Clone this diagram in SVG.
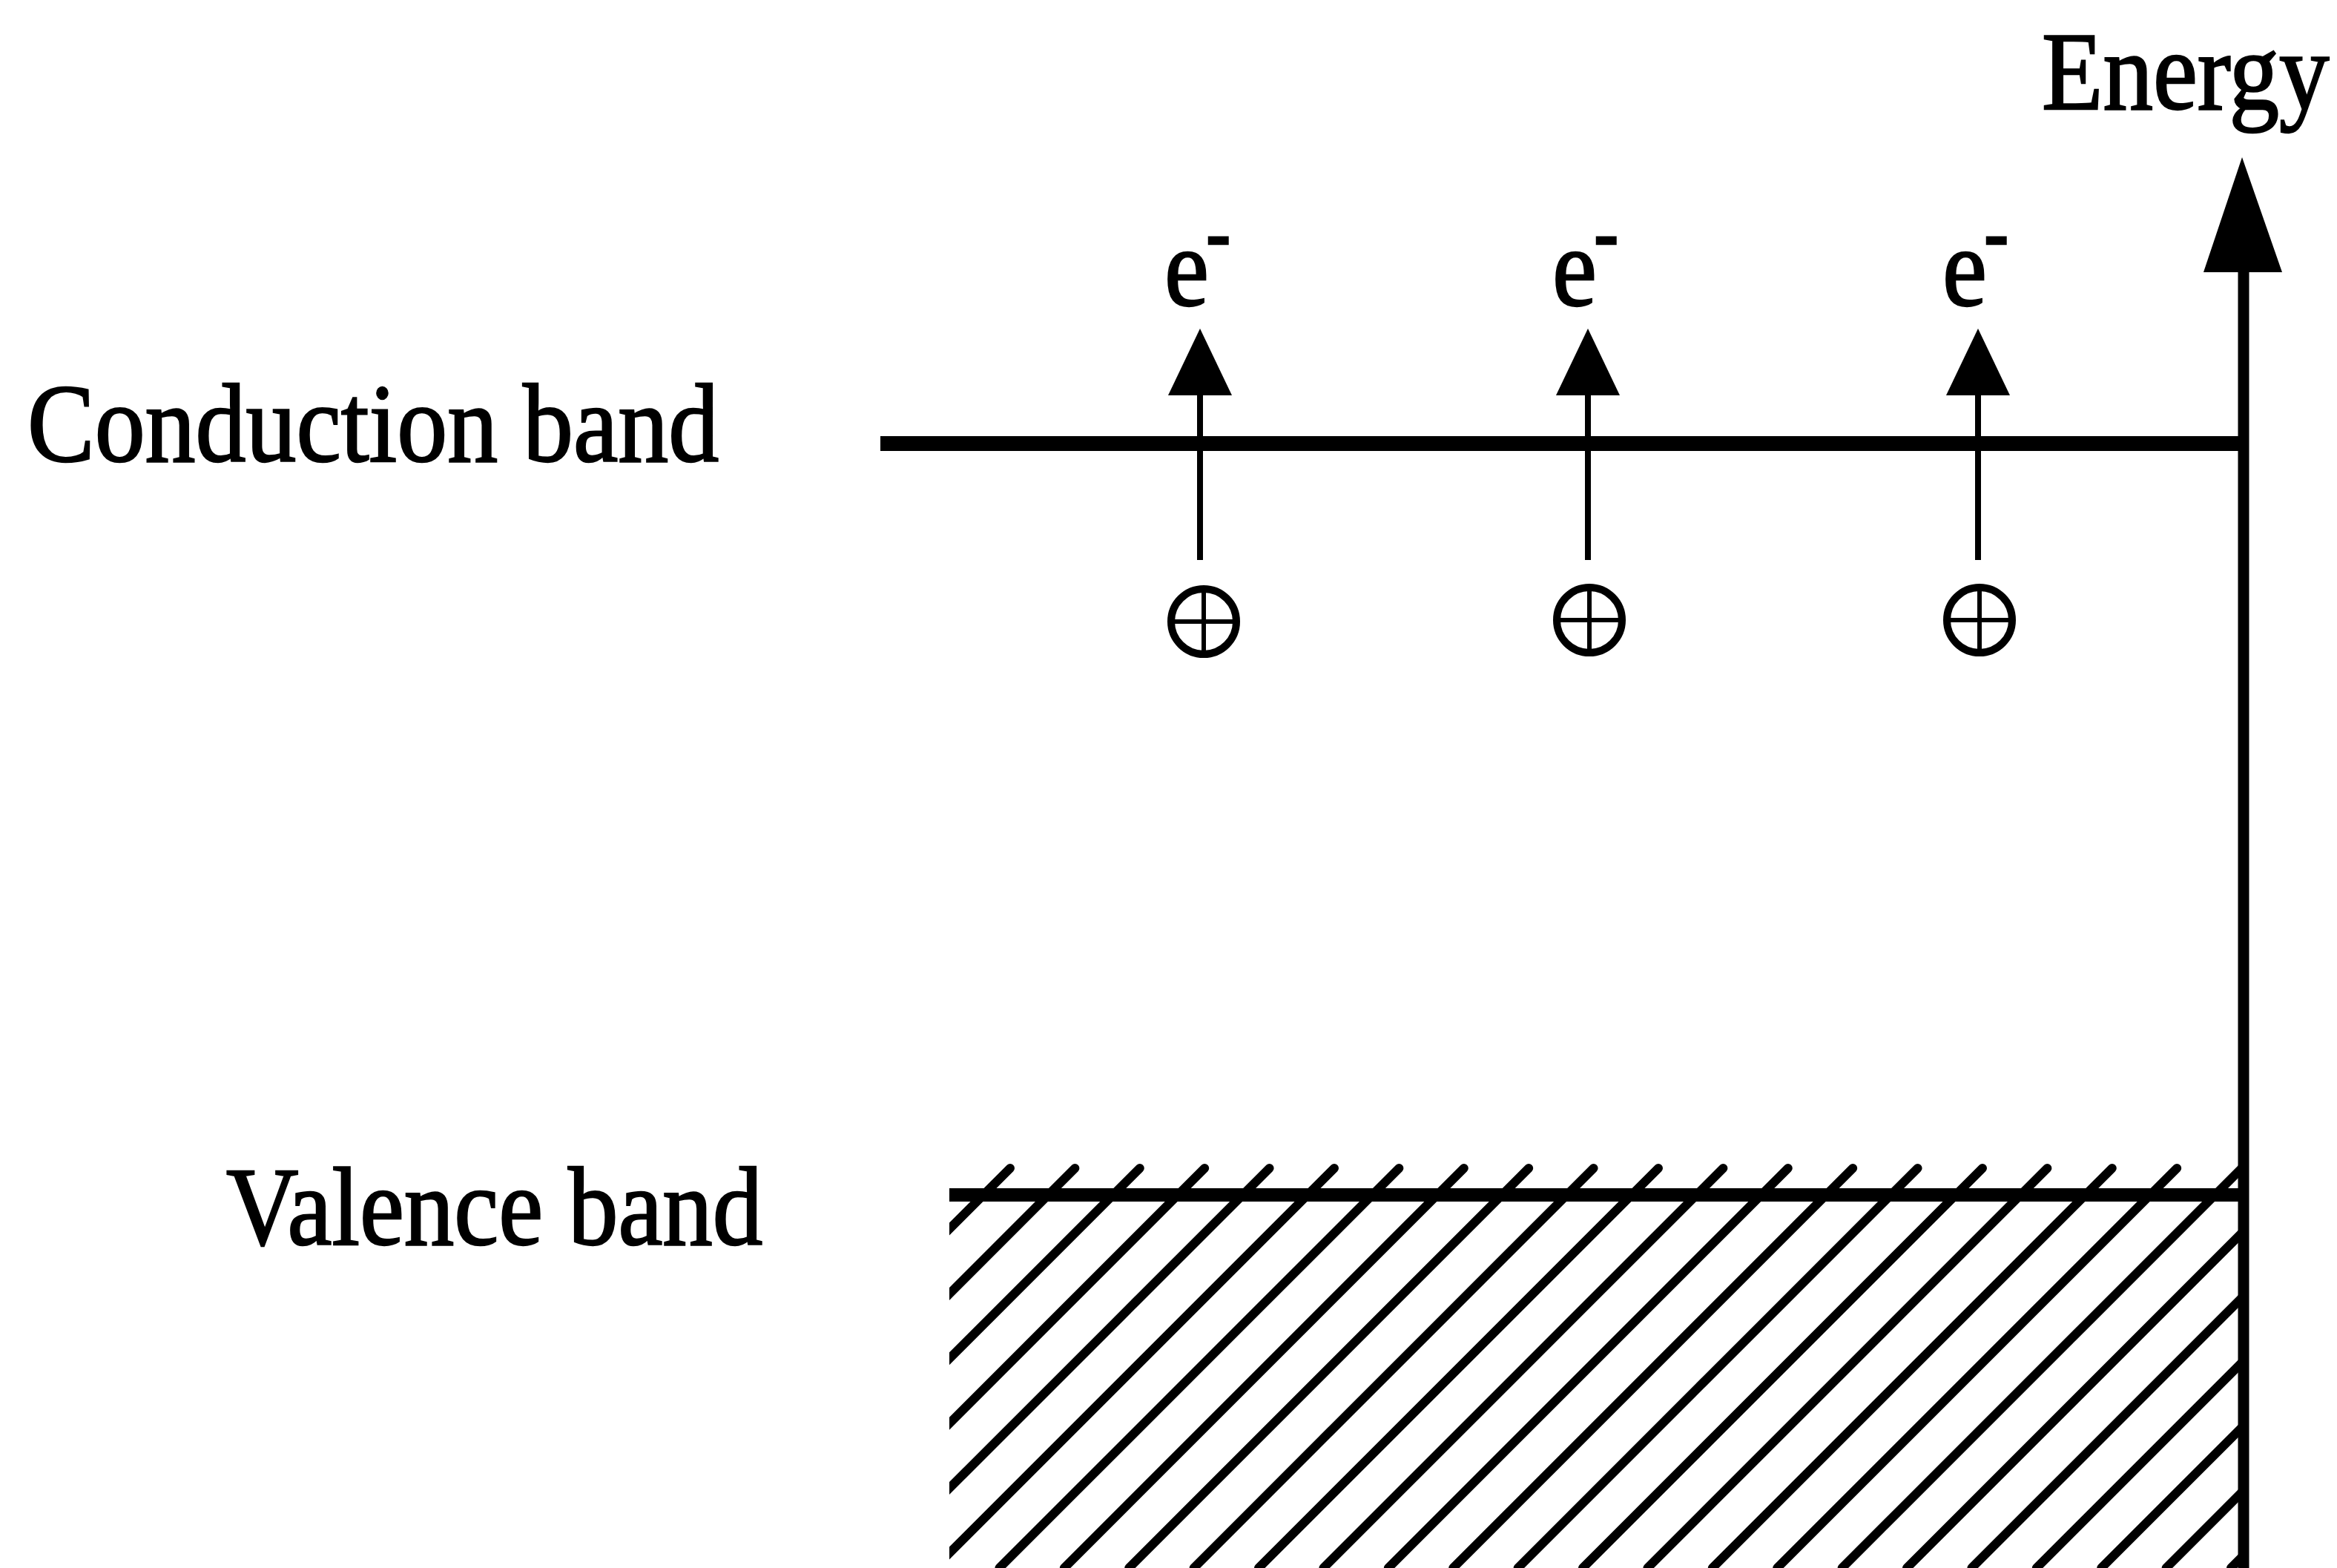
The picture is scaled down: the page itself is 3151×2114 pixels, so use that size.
<svg xmlns="http://www.w3.org/2000/svg" xmlns:xlink="http://www.w3.org/1999/xlink" width="3151" height="2114" viewBox="0 0 3151 2114">
  <style>
    .lbl { font-family: "Liberation Serif", "Times New Roman", serif; fill: #000; stroke: #000; stroke-width: 2.5; }
    .band { stroke: #000; stroke-linecap: butt; fill: none; }
    .hatch { stroke: #000; stroke-width: 12; stroke-linecap: round; }
    .shaft { stroke: #000; stroke-width: 8; }
    .head { fill: #000; }
    .hole circle { fill: none; stroke: #000; stroke-width: 10; }
    .hole line { stroke: #000; stroke-width: 6; }
  </style>
  <defs>
    <line id="h" class="hatch" x1="0" y1="1575" x2="-539" y2="2114"/>
    <clipPath id="hatchClip">
      <rect x="1280" y="1560" width="1745" height="560"/>
    </clipPath>
    <polygon id="smallHead" points="0,-45 43,45 -43,45"/>
  </defs>
  <rect width="3151" height="2114" fill="#fff"/>

  <g id="energy-axis">
    <line x1="3025" y1="360" x2="3025" y2="2114" stroke="#000" stroke-width="15"/>
    <polygon class="head" points="3023,212 3077,367 2971,367"/>
    <text class="lbl" font-size="150" transform="translate(2753,147) scale(0.9,1)">Energy</text>
  </g>

  <g id="conduction-band">
    <line class="band" x1="1187" y1="598" x2="3025" y2="598" stroke-width="20"/>
    <text class="lbl" font-size="151" transform="translate(37,622) scale(0.9,1)">Conduction band</text>
  </g>

  <g id="valence-band">
    <g clip-path="url(#hatchClip)">
      <use xlink:href="#h" x="1362"/>
      <use xlink:href="#h" x="1449.4"/>
      <use xlink:href="#h" x="1536.8"/>
      <use xlink:href="#h" x="1624.2"/>
      <use xlink:href="#h" x="1711.6"/>
      <use xlink:href="#h" x="1799"/>
      <use xlink:href="#h" x="1886.4"/>
      <use xlink:href="#h" x="1973.8"/>
      <use xlink:href="#h" x="2061.2"/>
      <use xlink:href="#h" x="2148.6"/>
      <use xlink:href="#h" x="2236"/>
      <use xlink:href="#h" x="2323.4"/>
      <use xlink:href="#h" x="2410.8"/>
      <use xlink:href="#h" x="2498.2"/>
      <use xlink:href="#h" x="2585.6"/>
      <use xlink:href="#h" x="2673"/>
      <use xlink:href="#h" x="2760.4"/>
      <use xlink:href="#h" x="2847.8"/>
      <use xlink:href="#h" x="2935.2"/>
      <use xlink:href="#h" x="3022.6"/>
      <use xlink:href="#h" x="3110"/>
      <use xlink:href="#h" x="3197.4"/>
      <use xlink:href="#h" x="3284.8"/>
      <use xlink:href="#h" x="3372.2"/>
      <use xlink:href="#h" x="3459.6"/>
      <use xlink:href="#h" x="3547"/>
    </g>
    <line class="band" x1="1280" y1="1611" x2="3025" y2="1611" stroke-width="18"/>
    <text class="lbl" font-size="150" transform="translate(305,1678) scale(0.9,1)">Valence band</text>
  </g>

  <g id="electron-1">
    <text class="lbl" font-size="150" transform="translate(1570,412) scale(0.9,1)">e<tspan font-size="110" font-weight="bold" dx="-4" dy="-62">-</tspan></text>
  </g>
  <g id="electron-2">
    <text class="lbl" font-size="150" transform="translate(2093,412) scale(0.9,1)">e<tspan font-size="110" font-weight="bold" dx="-4" dy="-62">-</tspan></text>
  </g>
  <g id="electron-3">
    <text class="lbl" font-size="150" transform="translate(2619,412) scale(0.9,1)">e<tspan font-size="110" font-weight="bold" dx="-4" dy="-62">-</tspan></text>
  </g>

  <g id="hole-1" class="hole">
    <circle cx="1623" cy="838" r="44"/>
    <line x1="1579" y1="838" x2="1667" y2="838"/>
    <line x1="1623" y1="794" x2="1623" y2="882"/>
  </g>
  <g id="hole-2" class="hole">
    <circle cx="2143" cy="836" r="44"/>
    <line x1="2099" y1="836" x2="2187" y2="836"/>
    <line x1="2143" y1="792" x2="2143" y2="880"/>
  </g>
  <g id="hole-3" class="hole">
    <circle cx="2669" cy="836" r="44"/>
    <line x1="2625" y1="836" x2="2713" y2="836"/>
    <line x1="2669" y1="792" x2="2669" y2="880"/>
  </g>

  <g id="connectors">
    <line class="shaft" x1="1618" y1="755" x2="1618" y2="530"/>
    <use xlink:href="#smallHead" class="head" x="1618" y="488"/>
    <line class="shaft" x1="2141" y1="755" x2="2141" y2="530"/>
    <use xlink:href="#smallHead" class="head" x="2141" y="488"/>
    <line class="shaft" x1="2667" y1="755" x2="2667" y2="530"/>
    <use xlink:href="#smallHead" class="head" x="2667" y="488"/>
  </g>
</svg>
